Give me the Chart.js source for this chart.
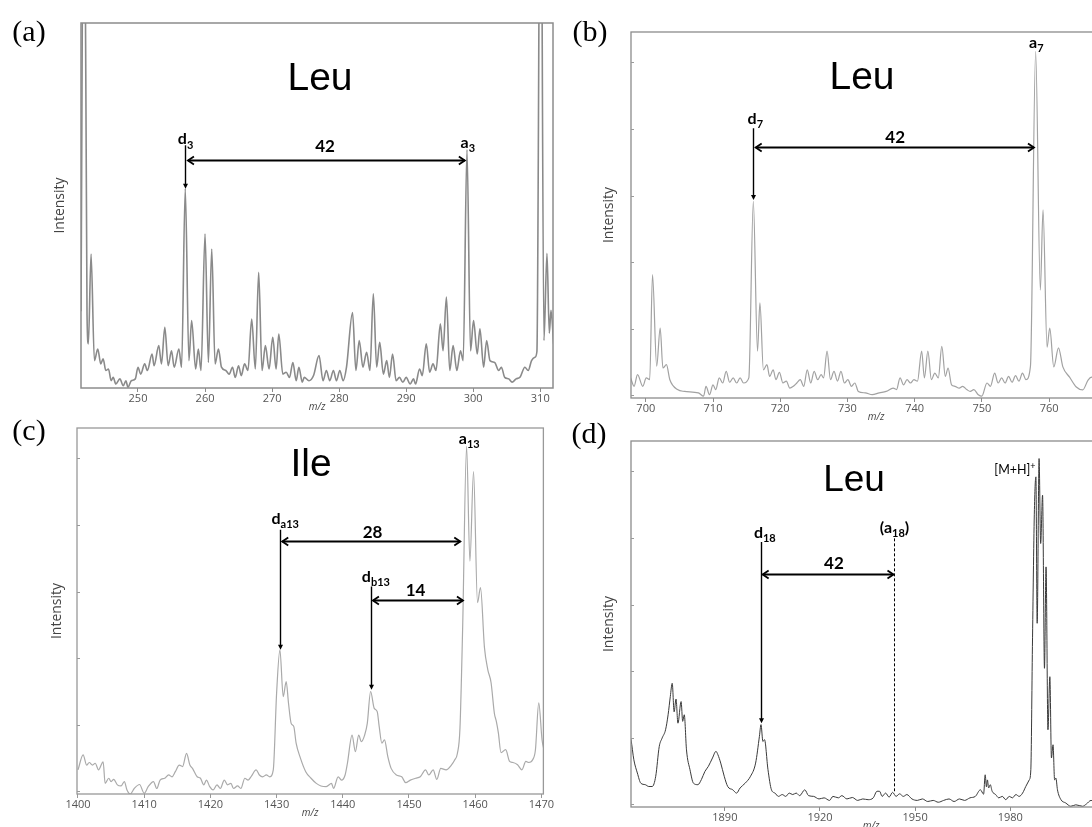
<!DOCTYPE html>
<html><head><meta charset="utf-8">
<script src="https://cdn.jsdelivr.net/npm/chart.js@4.4.1/dist/chart.umd.min.js"></script>
<style>
html,body{margin:0;padding:0;background:#fff;overflow:hidden;width:1092px;height:827px;position:relative;}
canvas{position:absolute;display:block;}
.plabel{position:absolute;font-family:"Liberation Serif","Times New Roman",serif;font-size:30px;color:#000;line-height:1;transform:translate(-50%,-50%);white-space:nowrap;}
.aa{position:absolute;font-family:"Liberation Sans",Arial,sans-serif;color:#000;line-height:1;transform:translate(-50%,-50%);white-space:nowrap;}
</style></head><body>
<canvas id="ca" width="518" height="394" style="left:41px;top:19px"></canvas>
<canvas id="cb" width="536" height="395" style="left:591px;top:28px"></canvas>
<canvas id="cc" width="517" height="395" style="left:37px;top:424px"></canvas>
<canvas id="cd" width="527" height="395" style="left:591px;top:437px"></canvas>
<div class="plabel" style="left:29px;top:31px">(a)</div>
<div class="plabel" style="left:590px;top:31px">(b)</div>
<div class="plabel" style="left:29px;top:430px">(c)</div>
<div class="plabel" style="left:589px;top:433px">(d)</div>
<div class="aa" style="left:320px;top:76px;font-size:39px">Leu</div>
<div class="aa" style="left:862px;top:75px;font-size:39px">Leu</div>
<div class="aa" style="left:311px;top:462px;font-size:39px">Ile</div>
<div class="aa" style="left:854px;top:478px;font-size:37px">Leu</div>
<script>
// ---------- DATA ----------
const aTicks = [250,260,270,280,290,300,310];
const aMz = [241.5,241.95,242.4,242.6,243.0,243.5,244.0,244.45,244.8,245.2,245.6,246.0,246.3,246.7,247.3,247.8,248.2,248.5,249.0,249.6,250.0,250.4,251.0,251.4,252.1,252.4,253.1,253.5,254.0,254.5,255.0,255.4,256.1,256.5,257.05,257.6,258.0,258.6,259.0,259.4,260.0,260.5,261.0,261.5,262.0,262.45,263.1,263.6,264.1,264.5,265.0,265.4,265.9,266.4,266.96,267.5,268.0,268.5,269.0,269.55,270.1,270.6,271.0,271.6,272.1,272.6,273.1,273.6,274.0,274.5,274.8,275.5,276.2,277.0,277.6,278.1,278.6,279.15,279.6,280.1,280.6,281.1,282.0,282.5,283.0,283.55,284.1,284.6,285.1,285.6,286.05,286.6,287.1,287.5,287.97,288.5,289.0,289.5,290.0,290.6,291.1,291.4,292.0,292.4,293.0,293.5,294.0,294.45,295.1,295.5,296.0,296.5,297.0,297.56,298.1,298.5,299.07,299.6,300.05,300.6,301.0,301.55,302.0,302.5,303.2,303.8,304.2,304.7,305.3,305.8,306.4,307.0,307.7,308.2,308.7,309.2,309.5,310.05,310.55,311.0,311.35,311.6,312.0];
const aInt = [21,170,20,12.1,36.7,7.5,10.7,6.6,8.0,4.8,5.2,2.0,2.9,1.1,2.5,0.6,2.0,0.2,2.0,2.5,5.7,3.8,6.6,4.8,9.3,6.1,11.6,6.6,16.6,6.1,10.2,5.7,10.7,5.7,54.6,7.5,18.5,5.2,10.7,4.8,42.2,7.0,38.1,6.6,10.7,5.7,4.8,3.8,5.7,2.9,6.1,3.4,6.6,4.8,18.9,5.2,31.7,4.8,11.6,5.2,13.9,5.2,14.8,3.8,4.3,2.9,7.0,2.0,5.7,1.6,2.9,2.0,3.5,8.9,2.0,4.8,2.0,4.8,2.0,4.8,2.0,5.7,20.7,4.8,13.0,5.7,9.8,4.8,25.8,5.7,12.5,3.8,7.5,2.9,9.3,2.0,2.9,1.6,2.9,1.1,2.5,1.1,5.2,3.4,12.1,4.3,6.6,4.8,17.6,10.2,24.9,4.8,11.6,4.8,10.2,7.5,65.3,10.2,18.5,9.3,16.2,5.7,13.0,7.5,7.0,4.8,5.7,2.9,2.5,1.6,2.5,3.0,5.7,4.8,7.5,8.4,10,170,13,36.9,15,21.3,12];

const bTicks = [700,710,720,730,740,750,760,770];
const bMz = [697.74,698.26,698.77,699.55,700.07,700.58,701.0,701.62,702.14,702.55,703.07,703.58,704.72,705.76,707.83,708.6,708.96,709.48,710.0,710.41,710.93,711.45,711.96,712.48,713.0,713.52,714.03,714.55,715.33,716.0,716.62,716.98,717.5,718.02,718.43,718.95,719.36,719.88,720.4,720.91,721.43,721.95,722.47,722.98,723.5,724.02,724.54,725.05,725.57,726.09,726.45,726.97,727.48,728.0,728.52,729.04,729.55,730.07,730.59,731.1,731.62,732.66,733.69,734.73,735.76,736.8,737.31,737.83,738.35,738.87,739.38,739.9,740.42,741.04,741.45,741.97,742.49,743.0,743.52,744.04,744.56,744.97,745.49,746.0,746.63,747.14,747.76,748.28,748.8,749.47,749.99,750.76,751.28,751.9,752.42,752.94,753.46,753.97,754.49,755.01,755.52,756.04,756.56,757.23,758.0,758.7,759.1,759.7,760.1,760.7,761.4,762.05,763.05,764.05,765.0,765.8,766.3,767.0];
const bInt = [5.5,3.2,6.4,3.2,5.5,5.0,33.7,8.7,19.1,8.2,9.1,5.0,2.3,1.8,1.4,0.5,3.2,0.9,3.6,2.3,5.5,4.1,7.3,4.3,5.5,4.1,5.5,4.1,5.5,53.7,12.8,26.0,7.7,9.1,5.9,7.7,5.0,7.0,4.1,4.6,2.7,3.2,4.1,5.0,3.2,7.7,4.1,7.3,5.0,6.4,5.5,12.8,5.0,7.3,4.6,7.3,4.1,5.0,3.2,4.1,1.8,1.4,0.9,1.4,1.8,2.7,2.3,5.5,3.6,5.0,4.1,5.0,4.6,12.8,5.5,12.8,5.0,6.8,5.5,14.1,5.9,8.2,3.6,3.2,2.7,3.2,2.3,1.8,2.3,0.9,0.5,4.1,3.2,6.8,4.1,5.5,4.1,5.9,4.3,6.1,4.6,6.8,5.0,8.7,94.7,29.5,51.4,13.9,19.1,8.5,13.7,8.5,5.7,3.0,2.2,4.9,5.7,4.0];

const cTicks = [1400,1410,1420,1430,1440,1450,1460,1470];
const cMz = [1400.0,1400.78,1401.3,1401.7,1402.2,1402.6,1403.1,1403.8,1404.1,1404.65,1405.0,1405.4,1405.95,1406.5,1407.0,1407.4,1407.9,1408.5,1409.3,1410.0,1410.6,1411.4,1411.9,1412.4,1413.1,1413.7,1414.2,1414.7,1415.3,1415.8,1416.4,1416.9,1417.3,1418.0,1418.5,1419.0,1419.4,1419.9,1420.4,1421.0,1421.5,1422.1,1422.6,1423.1,1423.5,1424.1,1424.6,1425.2,1425.7,1426.2,1426.9,1427.4,1427.9,1428.45,1428.97,1429.5,1430.0,1430.5,1431.0,1431.45,1431.8,1432.2,1432.6,1432.95,1433.6,1434.4,1435.2,1436.0,1436.7,1437.5,1438.3,1438.6,1439.3,1439.8,1440.35,1440.7,1441.4,1441.9,1442.4,1442.8,1443.3,1443.7,1444.2,1444.75,1445.2,1445.5,1445.9,1446.3,1446.8,1447.3,1448.1,1448.9,1449.5,1450.2,1451.0,1451.7,1452.5,1453.0,1453.65,1454.2,1454.8,1455.6,1456.4,1456.9,1457.3,1457.7,1458.1,1458.7,1459.2,1459.75,1460.35,1460.8,1461.4,1461.9,1462.4,1462.9,1463.2,1463.5,1463.9,1464.6,1465.2,1465.7,1466.4,1467.05,1467.65,1468.1,1468.7,1469.1,1469.6,1470.1,1470.4];
const cInt = [6.6,10.7,7.9,8.6,7.9,8.4,6.6,8.8,2.9,4.3,3.4,4.0,2.5,2.2,3.4,1.1,0,1.5,2.6,0.2,2.0,3.4,1.5,3.8,4.3,5.2,4.7,6.1,7.9,7.5,11.1,7.9,7.0,4.7,4.3,2.5,3.8,2.0,1.1,2.5,1.5,3.8,2.5,2.9,1.5,2.2,1.5,4.3,3.8,4.9,6.6,5.2,4.7,5.2,4.7,6.6,27.5,39.4,26.6,30.7,24.8,19.3,18.4,13.9,9.8,6.1,4.3,2.9,2.2,2.0,2.9,1.5,4.7,3.8,5.2,8.4,16.1,11.6,16.1,14.3,16.1,19.3,28.0,23.4,22.5,18.4,13.9,14.8,10.2,7.0,5.2,4.7,3.1,3.8,4.3,4.7,6.6,5.2,6.6,4.0,7.0,6.6,7.9,9.3,11,18,45,95.0,63.6,88.1,52.3,56.4,40,34.0,30.4,22,19.8,16.7,11.3,12.1,8.9,8.6,8.0,6.6,8.9,8.6,9.4,12.1,24.9,14.8,12];

const dTicks = [1890,1920,1950,1980,2010];
const dMz = [1860.0,1860.4,1861.3,1862.4,1863.5,1864.9,1866.0,1867.1,1868.2,1869.3,1870.2,1871.3,1872.1,1872.8,1873.4,1874.0,1874.6,1875.2,1876.2,1876.7,1877.2,1877.9,1879.0,1880.1,1881.5,1882.6,1883.7,1884.8,1886.1,1887.2,1887.8,1888.7,1889.8,1890.9,1892.5,1893.7,1894.8,1896.4,1898.1,1899.7,1900.9,1901.4,1902.0,1902.5,1903.6,1904.7,1905.8,1906.9,1908.1,1909.2,1910.3,1911.4,1912.5,1913.6,1915.2,1916.4,1918.0,1919.7,1921.3,1923.0,1924.1,1925.8,1926.9,1928.5,1930.2,1931.9,1933.5,1935.2,1936.8,1938.0,1938.8,1939.6,1940.7,1941.8,1942.9,1944.0,1945.1,1946.3,1947.4,1949.0,1950.7,1952.3,1954.0,1955.7,1957.3,1959.0,1960.7,1962.3,1964.0,1965.6,1967.3,1969.0,1970.6,1971.6,1972.1,1972.5,1972.8,1973.2,1973.7,1974.3,1975.4,1976.4,1977.5,1978.6,1979.7,1980.7,1981.8,1982.8,1983.9,1984.9,1986.0,1986.5,1987.0,1987.6,1988.1,1988.5,1989.1,1989.6,1990.2,1990.8,1991.3,1991.9,1992.5,1993.0,1993.5,1994.0,1994.4,1994.9,1996.0,1997.5,1999.1,2000.7,2002.8,2004.0,2005.5,2007.0];
const dInt = [19.7,18.4,12.9,9.3,6.5,6.1,5.6,5.6,8.4,16.5,18.8,21.1,25.2,30.2,33.8,26,29.5,22.9,28.8,23.4,25.2,15.6,10.2,6.5,6.1,7.5,9.7,11.1,13.4,15.2,14.3,12.0,8.4,5.6,4.7,3.8,5.2,6.5,8.4,12.0,19.3,22.5,17.9,18.4,10.2,4.7,3.8,2.9,3.4,2.9,3.8,3.4,3.8,3.1,4.7,3.1,2.9,2.2,2.5,1.8,2.9,2.5,3.1,2.2,2.6,1.8,2.2,2.0,2.5,4.3,4.3,2.9,3.8,2.7,4.0,2.9,3.6,2.9,3.4,2.2,1.8,2.2,1.5,1.8,1.3,1.8,2.2,1.5,2.2,1.8,2.5,2.9,4.7,3.5,8.8,5.5,7.4,5.2,6.1,4.3,3.4,2.5,2.9,2.0,2.9,2.5,3.4,2.9,3.8,5.6,7.4,10.2,43.8,80,90.2,50.2,95.2,72,85.2,37.9,65.6,21.1,35.6,13.4,17.0,7.4,7.9,4.7,2.0,1.1,0.2,0.6,0.2,0.8,1.8,1.0];

// small intensity tick marks on the left axis (data units)
const yTickMarks = [0.7,18.9,37.1,55.3,73.5,91.7];

// ---------- ANNOTATIONS (anchored in data units) ----------
const aNotes = [
  {type:'text', x:257.1, y:68.3, parts:[['d','n'],['3','sub']]},
  {type:'varrow', x:257.0, y1:66.5, y2:54.6},
  {type:'harrow', x1:257.3, x2:298.9, y:62.6},
  {type:'text', x:277.9, y:66.3, parts:[['42','n']], size:17},
  {type:'text', x:299.2, y:67.4, parts:[['a','n'],['3','sub']]}
];
const bNotes = [
  {type:'text', x:716.3, y:76.5, parts:[['d','n'],['7','sub']]},
  {type:'varrow', x:716.0, y1:73.7, y2:54.1},
  {type:'harrow', x1:716.2, x2:757.9, y:68.7},
  {type:'text', x:737.1, y:71.3, parts:[['42','n']], size:17},
  {type:'text', x:758.1, y:97.2, parts:[['a','n'],['7','sub']]}
];
const cNotes = [
  {type:'text', x:1431.3, y:75.4, parts:[['d','n'],['a13','sub']]},
  {type:'varrow', x:1430.5, y1:72.2, y2:39.4},
  {type:'harrow', x1:1430.7, x2:1457.9, y:69.0},
  {type:'text', x:1444.5, y:71.7, parts:[['28','n']], size:17},
  {type:'text', x:1445.0, y:59.5, parts:[['d','n'],['b13','sub']]},
  {type:'varrow', x:1444.2, y1:56.7, y2:28.5},
  {type:'harrow', x1:1444.4, x2:1458.3, y:52.9},
  {type:'text', x:1451.0, y:55.8, parts:[['14','n']], size:17},
  {type:'text', x:1459.1, y:97.3, parts:[['a','n'],['13','sub']]}
];
const dNotes = [
  {type:'text', x:1902.6, y:75.2, parts:[['d','n'],['18','sub']]},
  {type:'varrow', x:1901.5, y1:72.4, y2:22.9},
  {type:'harrow', x1:1901.6, x2:1943.5, y:63.6},
  {type:'text', x:1924.4, y:66.6, parts:[['42','n']], size:17},
  {type:'vdash', x:1943.5, y1:73.4, y2:4.3},
  {type:'text', x:1943.5, y:76.5, parts:[['(a','n'],['18','sub'],[')','n']]},
  {type:'text', x:1988.0, y:92.2, parts:[['[M+H]','n'],['+','sup']], size:12.5, weight:'normal', align:'right'}
];

// ---------- PLUGIN ----------
const FAM = '"Lato","Open Sans",sans-serif';
function drawParts(ctx, parts, px, py, size, weight, align){
  const subSize = Math.round(size*0.68);
  let w = 0; const ws = [];
  parts.forEach(p => { ctx.font = weight+' '+(p[1]==='n'?size:subSize)+'px '+FAM; const m = ctx.measureText(p[0]).width; ws.push(m); w += m; });
  let x0 = align==='right' ? px - w : (align==='left' ? px : px - w/2);
  ctx.fillStyle = '#000'; ctx.textBaseline = 'alphabetic'; ctx.textAlign = 'left';
  const base = py + size*0.36;
  parts.forEach((p,i) => {
    ctx.font = weight+' '+(p[1]==='n'?size:subSize)+'px '+FAM;
    const dy = p[1]==='sub' ? size*0.28 : (p[1]==='sup' ? -size*0.38 : 0);
    ctx.fillText(p[0], x0, base + dy);
    x0 += ws[i];
  });
}
const annPlugin = {
  id: 'ann',
  afterDatasetsDraw(chart, args, opts){
    const {ctx, chartArea: ca} = chart;
    const X = chart.scales.x, Y = chart.scales.y;
    ctx.save();
    ctx.strokeStyle = opts.frameColor || '#888';
    ctx.lineWidth = opts.frameWidth || 1.2;
    ctx.strokeRect(ca.left, ca.top, ca.right - ca.left, ca.bottom - ca.top);
    if (opts.yMarks) {
      ctx.lineWidth = 1; ctx.strokeStyle = '#9a9a9a';
      opts.yMarks.forEach(v => {
        const yy = Math.round(Y.getPixelForValue(v)) + 0.5;
        ctx.beginPath(); ctx.moveTo(ca.left, yy); ctx.lineTo(ca.left + 3, yy); ctx.stroke();
      });
    }
    (opts.notes || []).forEach(n => {
      ctx.strokeStyle = '#000'; ctx.fillStyle = '#000'; ctx.setLineDash([]);
      if (n.type === 'text') {
        drawParts(ctx, n.parts, X.getPixelForValue(n.x), Y.getPixelForValue(n.y), n.size || 16, n.weight || 'bold', n.align || 'center');
      } else if (n.type === 'varrow') {
        const x = Math.round(X.getPixelForValue(n.x)) + 0.5, y1 = Y.getPixelForValue(n.y1), y2 = Y.getPixelForValue(n.y2);
        ctx.lineWidth = 1.4;
        ctx.beginPath(); ctx.moveTo(x, y1); ctx.lineTo(x, y2 - 4); ctx.stroke();
        ctx.beginPath(); ctx.moveTo(x - 2.5, y2 - 5); ctx.lineTo(x + 2.5, y2 - 5); ctx.lineTo(x, y2); ctx.closePath(); ctx.fill();
      } else if (n.type === 'vdash') {
        const x = Math.round(X.getPixelForValue(n.x)) + 0.5, y1 = Y.getPixelForValue(n.y1), y2 = Y.getPixelForValue(n.y2);
        ctx.lineWidth = 1; ctx.setLineDash([3, 2]);
        ctx.beginPath(); ctx.moveTo(x, y1); ctx.lineTo(x, y2); ctx.stroke();
        ctx.setLineDash([]);
      } else if (n.type === 'harrow') {
        const x1 = X.getPixelForValue(n.x1), x2 = X.getPixelForValue(n.x2), y = Math.round(Y.getPixelForValue(n.y)) + 0.5;
        ctx.lineWidth = 1.8;
        ctx.beginPath(); ctx.moveTo(x1 + 1, y); ctx.lineTo(x2 - 1, y); ctx.stroke();
        ctx.beginPath(); ctx.moveTo(x1 + 7, y - 4); ctx.lineTo(x1 + 1, y); ctx.lineTo(x1 + 7, y + 4); ctx.stroke();
        ctx.beginPath(); ctx.moveTo(x2 - 7, y - 4); ctx.lineTo(x2 - 1, y); ctx.lineTo(x2 - 7, y + 4); ctx.stroke();
      }
    });
    ctx.restore();
  }
};

// ---------- CHARTS ----------
function makeChart(id, mz, inten, ticks, xmin, xmax, notes, style){
  const pts = mz.map((m, i) => ({x: m, y: inten[i]}));
  return new Chart(document.getElementById(id), {
    type: 'line',
    data: { datasets: [{ data: pts, borderColor: style.line, borderWidth: style.lw, pointRadius: 0, fill: false, cubicInterpolationMode: 'monotone' }] },
    options: {
      responsive: false, animation: false, events: [],
      layout: { padding: { left: 0, top: 4, right: 6, bottom: 0 } },
      plugins: { legend: { display: false }, tooltip: { enabled: false }, ann: { notes: notes, frameColor: style.frame, frameWidth: style.fw, yMarks: style.marks ? yTickMarks : null } },
      scales: {
        x: {
          type: 'linear', min: xmin, max: xmax,
          afterBuildTicks: s => { s.ticks = ticks.map(v => ({value: v})); },
          afterFit: s => { s.height = 25; },
          grid: { display: true, drawOnChartArea: false, drawTicks: true, tickLength: 4, color: style.frame },
          border: { display: false },
          ticks: { padding: 0, autoSkip: false, maxRotation: 0, color: '#555', font: { family: '"Open Sans",sans-serif', size: 11 }, callback: v => String(v) },
          title: { display: true, text: 'm/z', color: '#444', padding: { top: 0, bottom: 0.2 }, font: { family: '"Open Sans",sans-serif', size: 10, style: 'italic' } }
        },
        y: {
          min: 0, max: 100,
          afterFit: s => { s.width = 40; },
          grid: { display: false }, border: { display: false },
          ticks: { display: false },
          title: { display: true, text: 'Intensity', color: '#444', padding: { top: style.tp, bottom: 0 }, font: { family: '"Open Sans",sans-serif', size: 14 } }
        }
      }
    },
    plugins: [annPlugin]
  });
}
makeChart('ca', aMz, aInt, aTicks, 241.5, 311.9, aNotes, {line:'#8a8a8a', lw:1.6, frame:'#8c8c8c', fw:1.5, tp:10.6, marks:false});
makeChart('cb', bMz, bInt, bTicks, 697.8, 770.7, bNotes, {line:'#a2a2a2', lw:1.2, frame:'#8c8c8c', fw:1.3, tp:9.6, marks:true});
makeChart('cc', cMz, cInt, cTicks, 1399.85, 1470.3, cNotes, {line:'#aaaaaa', lw:1.2, frame:'#999999', fw:1.3, tp:11.6, marks:true});
makeChart('cd', dMz, dInt, dTicks, 1860.4, 2011.9, dNotes, {line:'#3a3a3a', lw:1.0, frame:'#8c8c8c', fw:1.3, tp:9.6, marks:true});
</script>
</body></html>
